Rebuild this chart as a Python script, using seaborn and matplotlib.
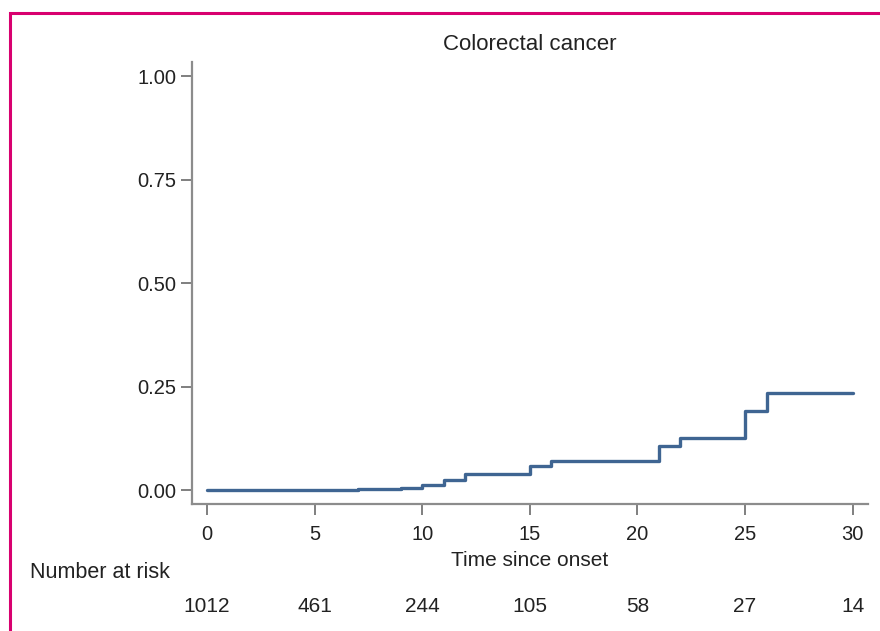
import matplotlib
matplotlib.use('Agg')
import matplotlib.pyplot as plt
import matplotlib.transforms as mtransforms
from matplotlib.patches import Rectangle
import seaborn as sns
import pandas as pd

# cumulative incidence step curve
times = [0, 7, 9, 10, 11, 12, 15, 16, 21, 22, 25, 26, 30]
cuminc = [0.0, 0.003, 0.005, 0.012, 0.024, 0.040, 0.059, 0.070, 0.106, 0.126, 0.192, 0.234, 0.234]

# number at risk table
risk_times = [0, 5, 10, 15, 20, 25, 30]
at_risk = [1012, 461, 244, 105, 58, 27, 14]

y_ticks = [0.0, 0.25, 0.5, 0.75, 1.0]

sns.set_theme(style='white')
plt.rcParams['font.family'] = ['Liberation Sans', 'DejaVu Sans']

df = pd.DataFrame({'time': times, 'cuminc': cuminc})

fig = plt.figure(figsize=(8.8, 6.31), dpi=100)
ax = fig.add_axes([0.218, 0.201, 0.768, 0.701])

sns.lineplot(data=df, x='time', y='cuminc', drawstyle='steps-post',
             color='#3f6592', linewidth=2.4, ax=ax)

ax.set_xlim(-0.7, 30.7)
ax.set_ylim(-0.034, 1.035)
ax.set_xticks(risk_times)
ax.set_yticks(y_ticks)
ax.set_yticklabels([f'{v:.2f}' for v in y_ticks])

for s in ['top', 'right']:
    ax.spines[s].set_visible(False)
for s in ['left', 'bottom']:
    ax.spines[s].set_color('#8c8c8c')
    ax.spines[s].set_linewidth(1.6)

ax.tick_params(axis='both', which='major', direction='out', length=8, width=1.2,
               color='#6a6a6a', labelsize=14.5, labelcolor='#222222', pad=7,
               left=True, bottom=True)
ax.tick_params(axis='y', pad=3)

ax.set_xlabel('')
ax.set_ylabel('')

fig.text(0.602, 1 - 45 / 631, 'Colorectal cancer', ha='center', va='center',
         fontsize=16, color='#222222')
fig.text(0.602, 1 - 560 / 631, 'Time since onset', ha='center', va='center',
         fontsize=15, color='#222222')
fig.text(0.034, 1 - 572 / 631, 'Number at risk', ha='left', va='center',
         fontsize=15.5, color='#222222')

trans = mtransforms.blended_transform_factory(ax.transData, fig.transFigure)
for t, n in zip(risk_times, at_risk):
    ax.text(t, 1 - 606 / 631, str(n), transform=trans, ha='center', va='center',
            fontsize=15, color='#222222', clip_on=False)

# magenta frame
fig.patches.append(Rectangle((10 / 880, -0.05), 1.0, 1 - 13 / 631 + 0.05,
                             transform=fig.transFigure, fill=False,
                             edgecolor='#d8006f', linewidth=2.2))

fig.savefig('out.png', dpi=100)
plt.close()
